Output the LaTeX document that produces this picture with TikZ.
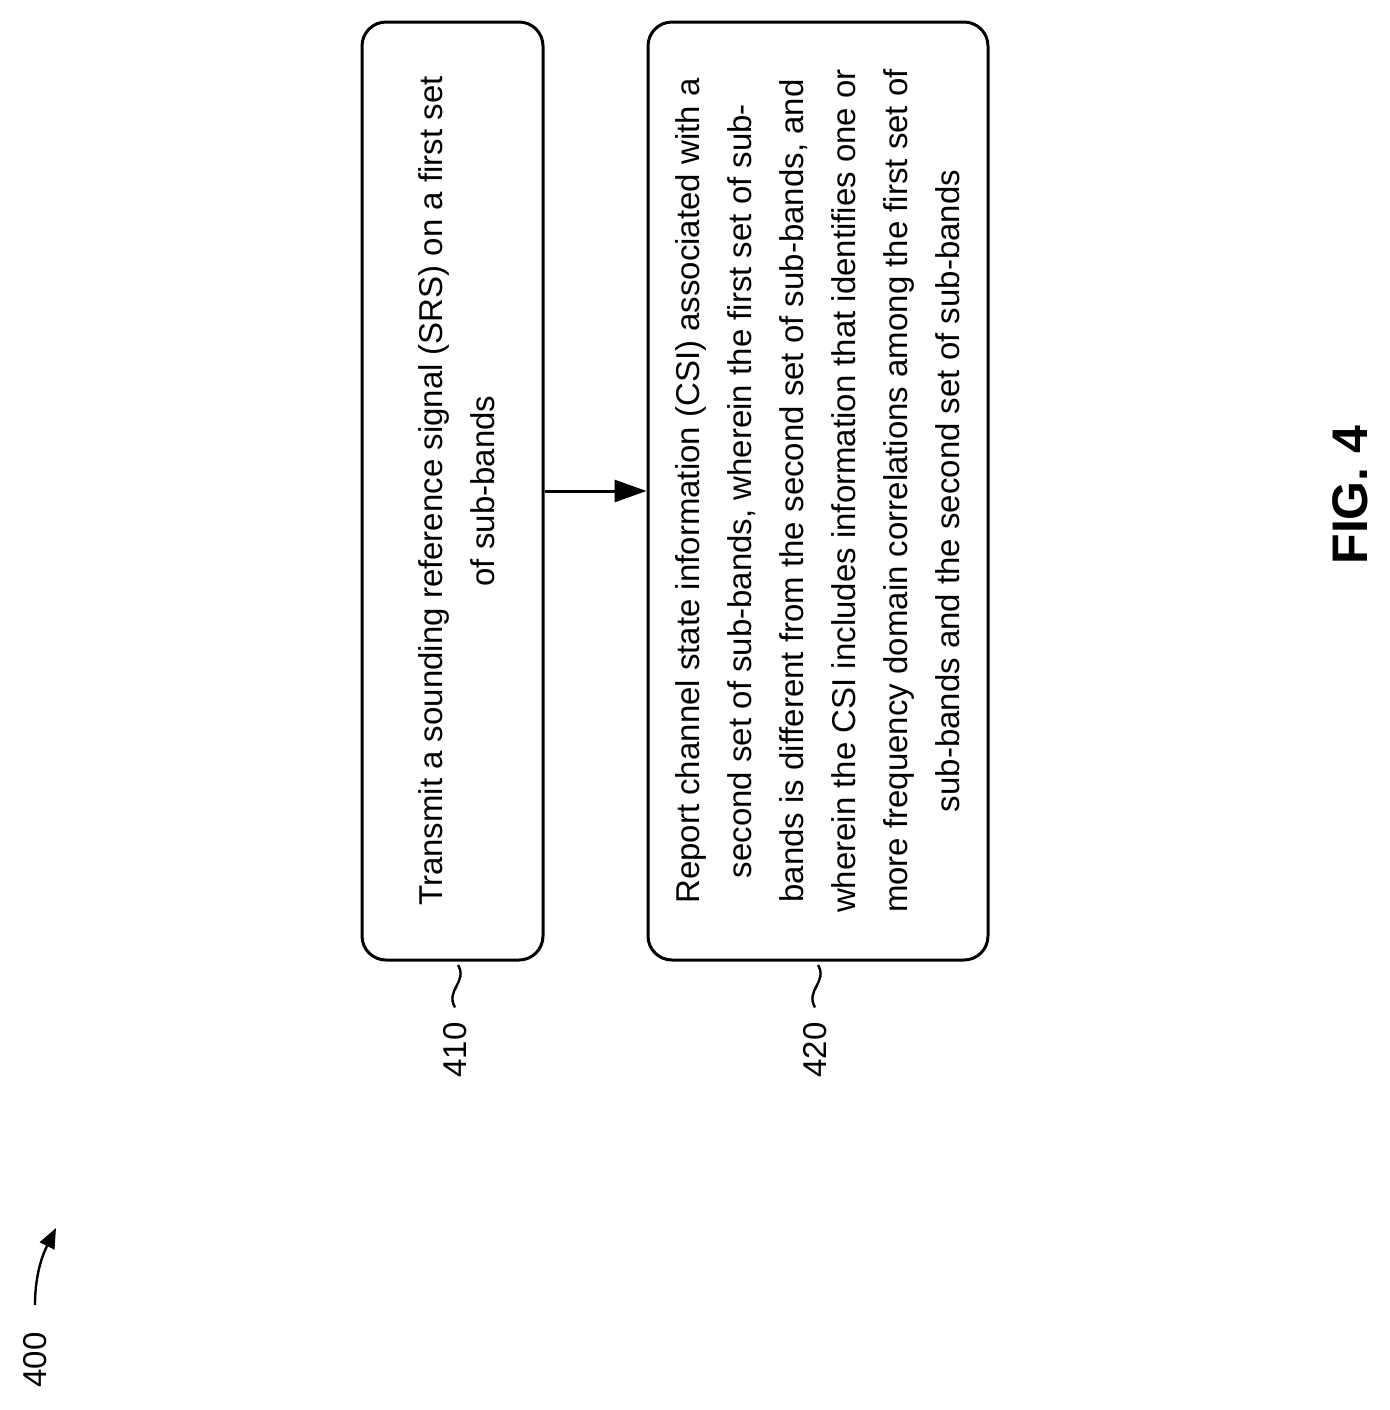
\documentclass[tikz,border=0pt]{standalone}
\usepackage{fontspec}
\setmainfont{Liberation Sans}
\usetikzlibrary{arrows.meta}
\begin{document}
\begin{tikzpicture}[x=0.5pt,y=-0.5pt,
  box/.style={draw,line width=1.5pt,rounded corners=12pt},
  txt/.style={rotate=90,align=center,font=\fontsize{16.5pt}{26pt}\selectfont},
  lbl/.style={rotate=90,font=\fontsize{16.5pt}{20pt}\selectfont},
  conn/.style={line width=1.5pt,-{Triangle[length=16pt,width=11pt]}}]
\useasboundingbox (0,0) rectangle (1390,1410);
\node[box,minimum width=181*0.5pt,minimum height=938*0.5pt] (b1) at (452.5,491) {};
\node[box,minimum width=340*0.5pt,minimum height=938*0.5pt] (b2) at (818,491) {};
\node[txt] (t1) at (457,491) {Transmit a sounding reference signal (SRS) on a first set\\of sub-bands};
\node[txt] (t2) at (818,491) {Report channel state information (CSI) associated with a\\second set of sub-bands, wherein the first set of sub-\\bands is different from the second set of sub-bands, and\\wherein the CSI includes information that identifies one or\\more frequency domain correlations among the first set of\\sub-bands and the second set of sub-bands};
\draw[conn] (b1.east) -- (b2.west);
\node[lbl] (l1) at (455,1050) {410};
\node[lbl] (l2) at (815,1050) {420};
\draw[line width=1.2pt] (l1.east) ++(0,-8) .. controls (445,990) and (468,982) .. (458,965);
\draw[line width=1.2pt] (l2.east) ++(0,-8) .. controls (805,990) and (828,982) .. (818,965);
\node[lbl] (l0) at (35,1360) {400};
\draw[line width=1.2pt,-{Triangle[length=10pt,width=8pt]}] (35,1305) .. controls (35,1270) and (45,1250) .. (56,1228);
\node[rotate=90,font=\bfseries\fontsize{25pt}{30pt}\selectfont] (fig) at (1350,495) {FIG. 4};
\end{tikzpicture}
\end{document}
